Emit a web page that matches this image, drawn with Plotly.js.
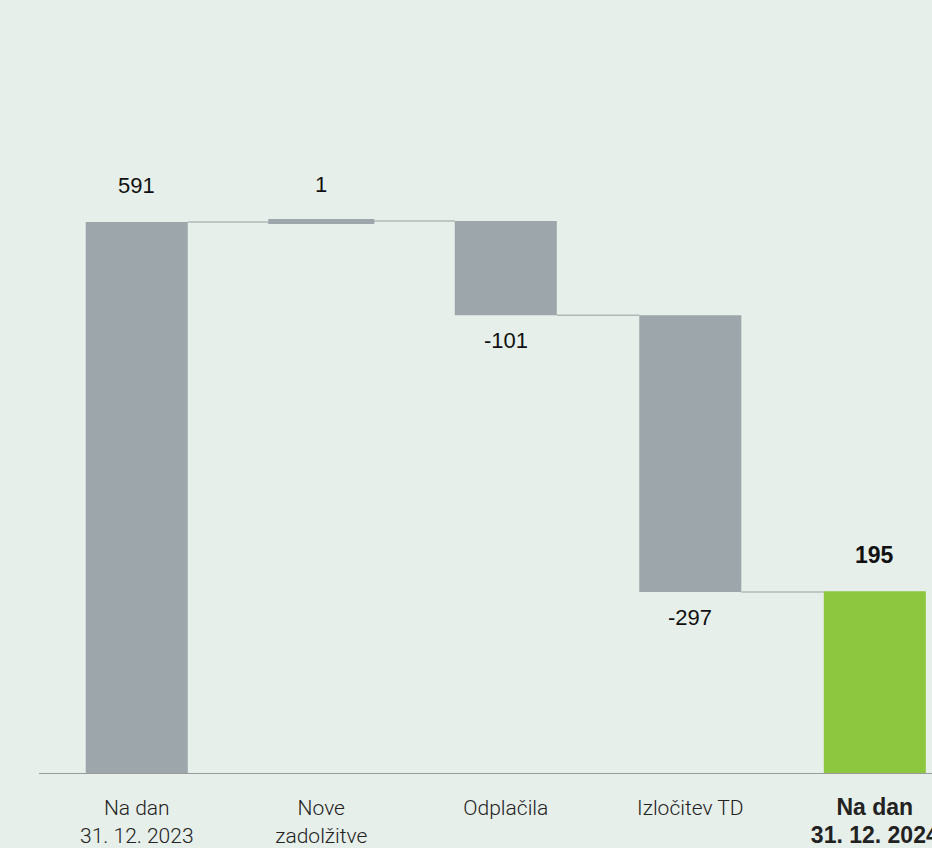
<!DOCTYPE html>
<html>
<head>
<meta charset="utf-8">
<script src="https://cdn.plot.ly/plotly-3.0.1.min.js"></script>
<style>html,body{margin:0;padding:0;background:#e7efea;}#chart{width:932px;height:848px;}</style>
</head>
<body>
<div id="chart"></div>
<script>
const categories = ["Na dan<br>31. 12. 2023", "Nove<br>zadolžitve", "Odplačila", "Izločitev TD", "Na dan<br>31. 12. 2024"];
const values = [591, 1, -101, -297, 195];
const measures = ["absolute", "relative", "relative", "relative", "absolute"];
const labels = ["591", "1", "-101", "-297", "195"];
const barColors = ["#9ca6ab", "#9ca6ab", "#9ca6ab", "#9ca6ab", "#8dc63f"];

const BAR_W = 0.553;
const BOLD = t => t.split("<br>").map(s => '<span style="font-family:Liberation Sans;font-weight:bold;font-size:23px">' + s + '</span>').join("<br>");

const bases = [], heights = [], ends = [];
let running = 0;
values.forEach((v, i) => {
  if (measures[i] === "absolute") { bases.push(0); heights.push(v); running = v; }
  else { bases.push(v >= 0 ? running : running + v); heights.push(Math.abs(v)); running += v; }
  ends.push(running);
});
const idx = values.map((_, i) => i);
const last = values.length - 1;
const tickText = categories.map((c, i) => i === last ? BOLD(c) : c);

const trace = {
  type: "bar",
  x: idx,
  y: heights,
  base: bases,
  width: BAR_W,
  marker: {color: barColors, line: {color: barColors, width: values.map(v => Math.abs(v) < 5 ? 4 : 0)}},
  hoverinfo: "skip"
};

const shapes = [];
for (let i = 0; i < values.length - 1; i++) {
  shapes.push({type: "line", xref: "x", yref: "y", x0: i + BAR_W / 2, x1: i + 1 - BAR_W / 2,
    y0: ends[i], y1: ends[i], line: {color: "#b4b8b8", width: 1.5}, layer: "below"});
}

const annotations = values.map((v, i) => {
  const isEnd = i === last;
  const up = v >= 0;
  const y = up ? bases[i] + heights[i] : bases[i];
  return {x: i, y: y, xref: "x", yref: "y", text: isEnd ? BOLD(labels[i]) : labels[i],
    showarrow: false, yshift: up ? 36 : -25,
    font: {family: "Liberation Sans, Arial, sans-serif", size: 22, color: "#111"}};
});

const layout = {
  width: 932, height: 848,
  margin: {l: 39, r: 0, t: 0, b: 75},
  paper_bgcolor: "#e7efea", plot_bgcolor: "#e7efea",
  showlegend: false,
  xaxis: {range: [-0.53, 4.31], tickvals: idx, ticktext: tickText, showgrid: false, zeroline: false,
    showline: true, linecolor: "#9a9a9a", linewidth: 1, ticks: "outside", ticklen: 16, tickcolor: "rgba(0,0,0,0)",
    ticklabeloverflow: "allow",
    tickfont: {family: "Roboto, Liberation Sans, sans-serif", weight: 300, size: 21, color: "#222"}, fixedrange: true},
  yaxis: {range: [0, 829], visible: false, showgrid: false, zeroline: false, fixedrange: true},
  shapes: shapes,
  annotations: annotations
};

Plotly.newPlot("chart", [trace], layout, {displayModeBar: false, staticPlot: true});
</script>
</body>
</html>
